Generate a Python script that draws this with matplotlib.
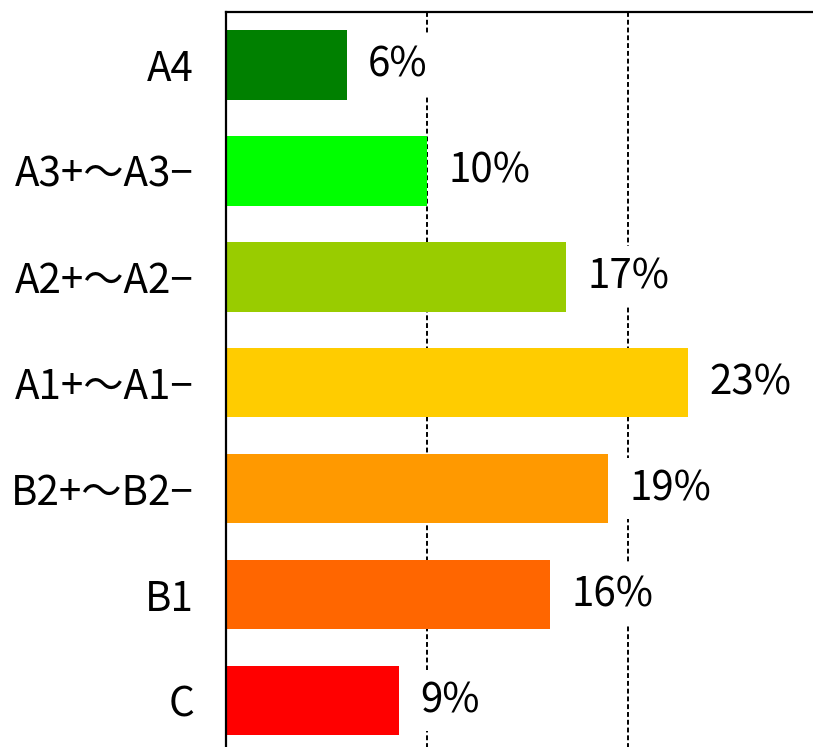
import matplotlib
matplotlib.use("Agg")
import matplotlib.pyplot as plt

# -----------------------------
# Data
# -----------------------------
categories = ["A4", "A3+～A3−", "A2+～A2−", "A1+～A1−", "B2+～B2−", "B1", "C"]
shares = [6.0, 10.0, 16.9, 23.0, 19.0, 16.1, 8.6]
colors = ["#008000", "#00FF00", "#99CC00", "#FFCC00", "#FF9900", "#FF6600", "#FF0000"]

plt.rcParams['font.family'] = ['Noto Sans CJK JP', 'DejaVu Sans']

fig = plt.figure(figsize=(8.13, 7.47), dpi=100)
# axes runs a bit past the right and bottom edge of the picture
ax = fig.add_axes([226 / 813, 1 - 753.5 / 747, 603 / 813, 741.5 / 747])

pos = list(range(len(categories)))
ax.barh(pos, shares, height=0.655, color=colors, zorder=2)

ax.set_xlim(0, 30)
ax.set_ylim(len(categories) - 0.5, -0.5)

ax.set_yticks(pos)
ax.set_yticklabels(categories, fontsize=29)
ax.tick_params(axis='y', length=0, pad=23)
ax.tick_params(axis='x', length=0, labelbottom=False)
ax.set_xticks([10, 20])

ax.grid(axis='x', color='black', linewidth=1.4, linestyle=(0, (2.5, 1.5)), zorder=1)
ax.grid(axis='y', visible=False)

for s in ax.spines.values():
    s.set_linewidth(1.6)
    s.set_color('black')

# value labels with white boxes (they cut the gridlines)
for y, v in zip(pos, shares):
    ax.annotate(f"{v:.0f}%", xy=(v, y), xytext=(15.5, 0), textcoords='offset points',
                ha='left', va='center', fontsize=29,
                family=['Liberation Sans Narrow', 'Noto Sans CJK JP'],
                bbox=dict(boxstyle='square,pad=0.25', fc='white', ec='none'), zorder=3)

fig.savefig("out.png", dpi=100)
